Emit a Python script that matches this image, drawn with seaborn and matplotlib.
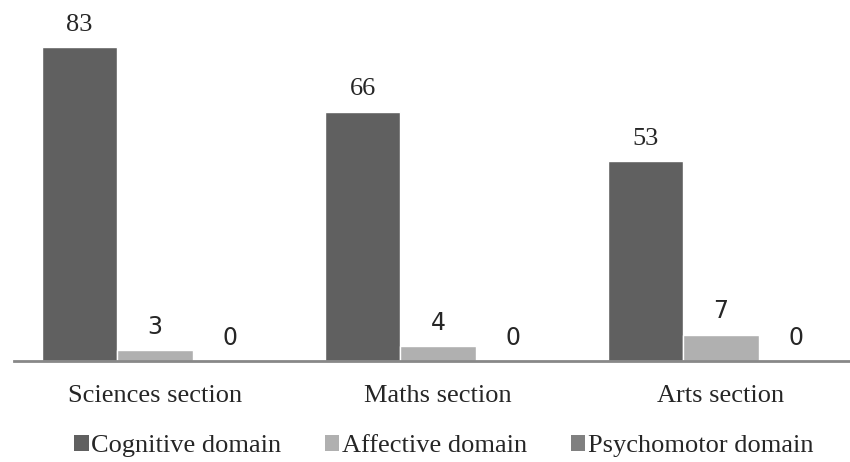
import pandas as pd
import matplotlib.pyplot as plt
import seaborn as sns
from matplotlib.patches import Patch

# Data
sections = ['Sciences section', 'Maths section', 'Arts section']
domains = ['Cognitive domain', 'Affective domain', 'Psychomotor domain']
cognitive = [83, 66, 53]
affective = [3, 4, 7]
psychomotor = [0, 0, 0]
colors = ['#606060', '#b0b0b0', '#808080']

df = pd.DataFrame({
    'Section': sections * 3,
    'Domain': [d for d in domains for _ in sections],
    'Value': cognitive + affective + psychomotor,
})

sns.set_style('white')
plt.rcParams['font.family'] = ['Liberation Serif', 'DejaVu Serif']

fig = plt.figure(figsize=(8.5, 4.62), dpi=100)
ax = fig.add_axes([13.5 / 850, 101 / 462, 849 / 850, 350 / 462])

sns.barplot(data=df, x='Section', y='Value', hue='Domain', order=sections,
            hue_order=domains, palette=colors, width=0.8, saturation=1,
            ax=ax, legend=False)

ax.set_xlim(-0.5, 2.5)
ax.set_ylim(0, 92.6)
ax.set_xlabel('')
ax.set_ylabel('')
ax.set_yticks([])
ax.tick_params(axis='x', length=0, pad=17, labelsize=19)
for s in ['top', 'left', 'right']:
    ax.spines[s].set_visible(False)
ax.spines['bottom'].set_color('#888888')
ax.spines['bottom'].set_linewidth(2)

# value labels: first series in serif, others in sans
for i, cont in enumerate(ax.containers):
    if i == 0:
        ax.bar_label(cont, padding=8, fontsize=19, family='Liberation Serif')
    else:
        ax.bar_label(cont, padding=8, fontsize=17, family='DejaVu Sans')

handles = [Patch(facecolor=c, edgecolor='none') for c in colors]
fig.legend(handles, domains, loc='center', bbox_to_anchor=(0.522, 16 / 462),
           ncol=3, frameon=False, fontsize=19, handlelength=0.55,
           handleheight=0.55, handletextpad=0.1, columnspacing=1.65,
           borderpad=0)

fig.savefig('out.png', dpi=100)
